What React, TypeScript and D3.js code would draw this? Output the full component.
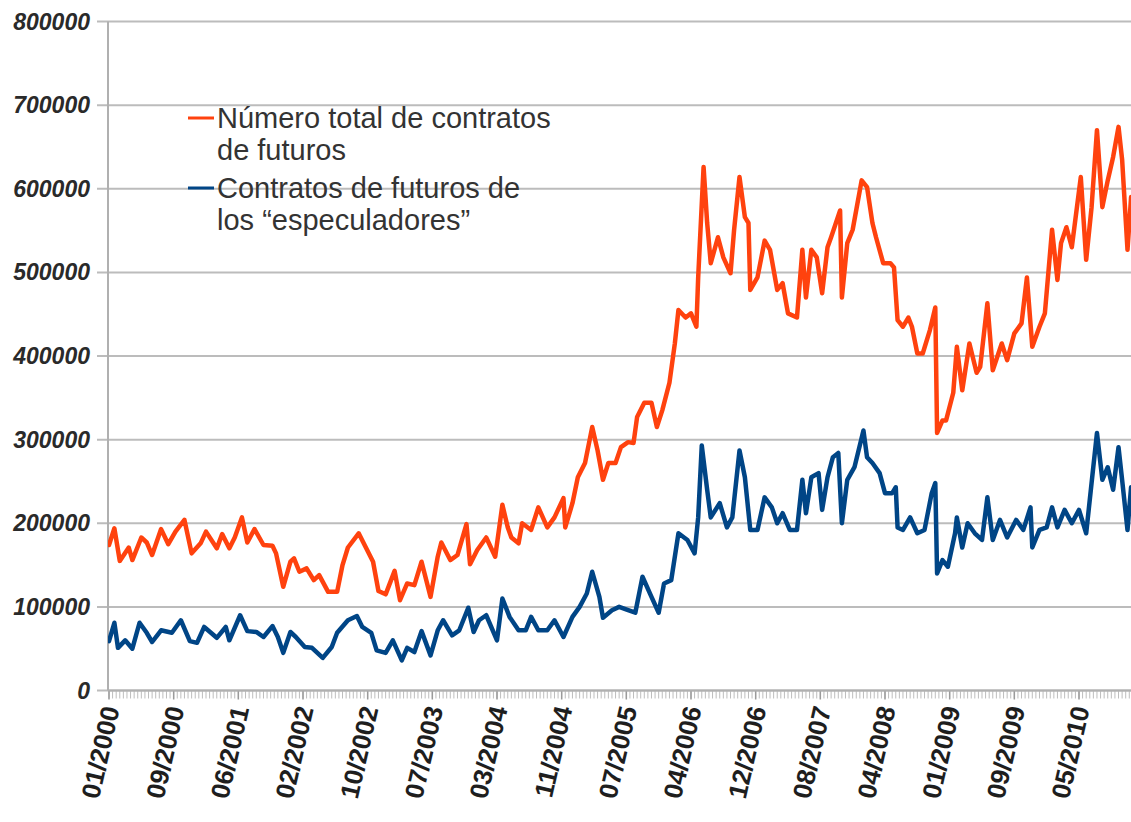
import React from 'react';
import * as d3 from 'd3';

// Weekly categories start 01/2000; a label every 36 weeks
const xTickLabels = ['01/2000','09/2000','06/2001','02/2002','10/2002','07/2003','03/2004','11/2004','07/2005','04/2006','12/2006','08/2007','04/2008','01/2009','09/2009','05/2010'];
const weeksPerLabel = 36;
const yTicks = [0, 100000, 200000, 300000, 400000, 500000, 600000, 700000, 800000];

const seriesNames = ['Número total de contratos\nde futuros', 'Contratos de futuros de\nlos “especuladores”'];

// [week index, value in thousands of contracts]
const totalContracts: [number, number][] = [
  [0,174],[3,194],[6,155],[11,171],[13,156],[18,183],[21,177],[24,162],[29,193],[33,175],[37,190],[42,204],[46,164],[51,176],[54,190],[60,170],[63,187],[67,170],[70,183],[74,207],[77,177],[81,193],[86,174],[91,173],[93,164],[97,124],[101,154],[103,158],[106,142],[110,146],[114,132],[117,138],[122,118],[127,118],[130,150],[133,171],[139,188],[143,171],[147,154],[150,119],[154,115],[159,143],[162,108],[166,128],[170,126],[174,154],[179,112],[183,160],[185,177],[190,156],[194,162],[199,199],[201,151],[205,168],[210,183],[215,160],[219,222],[222,195],[224,183],[228,176],[230,200],[235,192],[239,219],[244,195],[248,207],[253,230],[254,195],[258,224],[261,255],[265,272],[269,315],[272,287],[275,252],[278,272],[282,272],[285,291],[289,297],[292,296],[294,327],[298,344],[302,344],[305,315],[308,335],[312,368],[315,415],[317,455],[321,446],[324,451],[327,435],[328,494],[331,626],[333,559],[335,511],[339,542],[342,518],[346,499],[348,551],[351,614],[354,566],[356,559],[357,479],[361,494],[365,538],[368,527],[372,479],[375,487],[378,451],[383,446],[386,527],[388,470],[391,527],[394,518],[397,475],[400,530],[402,542],[407,574],[408,470],[411,535],[414,551],[419,610],[422,602],[425,559],[427,542],[431,511],[435,511],[437,506],[439,443],[442,435],[445,446],[447,435],[450,403],[453,403],[457,431],[460,458],[461,308],[464,323],[466,323],[470,356],[472,411],[475,359],[479,415],[483,380],[485,387],[489,463],[492,383],[497,415],[500,395],[504,427],[508,439],[511,494],[514,411],[518,435],[521,451],[525,551],[528,491],[530,535],[533,554],[536,530],[541,614],[544,515],[547,578],[550,670],[553,578],[556,610],[559,638],[562,674],[564,635],[567,527],[569,590]
];

const speculatorContracts: [number, number][] = [
  [0,59],[3,81],[5,51],[9,60],[13,50],[17,81],[21,69],[24,58],[29,72],[35,69],[40,84],[45,59],[49,57],[53,76],[60,63],[65,76],[67,60],[73,90],[77,71],[82,70],[86,64],[91,77],[94,64],[97,45],[101,70],[104,64],[109,52],[113,51],[119,39],[124,52],[127,69],[133,84],[138,89],[141,76],[146,69],[149,48],[154,45],[158,60],[163,36],[166,51],[170,46],[174,71],[179,42],[183,72],[186,84],[191,66],[195,72],[200,99],[203,70],[206,84],[210,90],[216,60],[219,110],[223,88],[228,72],[232,72],[235,88],[239,72],[244,72],[248,84],[253,64],[258,88],[262,100],[266,116],[269,142],[273,112],[275,87],[280,96],[284,100],[289,96],[293,93],[297,136],[302,112],[306,93],[309,128],[313,132],[317,188],[322,180],[326,164],[328,207],[330,293],[333,240],[335,207],[340,224],[344,195],[347,207],[351,287],[354,255],[357,192],[361,192],[365,231],[369,219],[372,200],[375,212],[379,192],[383,192],[386,252],[388,212],[391,255],[395,260],[397,216],[400,255],[403,279],[406,284],[408,200],[411,252],[415,267],[420,311],[422,279],[425,272],[429,260],[432,236],[436,236],[438,243],[439,195],[442,192],[446,207],[450,188],[454,192],[458,236],[460,248],[461,140],[464,156],[467,148],[471,188],[472,207],[475,171],[478,200],[482,188],[486,180],[489,231],[492,180],[496,204],[500,183],[505,204],[509,192],[513,219],[514,171],[518,192],[522,195],[525,219],[528,195],[532,216],[536,200],[540,216],[544,188],[547,248],[550,308],[553,252],[556,267],[559,240],[562,291],[564,252],[567,192],[569,243]
];

const seriesColors = ['#ff420e', '#004586'];

const W = 1131;
const H = 822;

export default function App() {
  const lastLabelWeek = weeksPerLabel * (xTickLabels.length - 1);
  const x = d3.scaleLinear().domain([0, lastLabelWeek]).range([109, 1079]);
  const y = d3.scaleLinear().domain([0, 800000]).range([690.5, 21.5]);
  const plotLeft = 108;
  const plotRight = W + 10;
  const maxWeek = Math.ceil(x.invert(plotRight));

  const line = d3.line<[number, number]>()
    .x(d => x(d[0]))
    .y(d => y(d[1] * 1000));

  const minorTicks = d3.range(0, maxWeek, 2);
  const majorTicks = xTickLabels.map((_, i) => i * weeksPerLabel);

  const fmt = d3.format('d');

  return (
    <div style={{ position: 'absolute', left: 0, top: 0 }}>
      <svg width={W} height={H} style={{ display: 'block', background: '#fff' }}>
        <defs>
          <clipPath id="plotClip">
            <rect x={plotLeft} y={0} width={plotRight - plotLeft} height={H} />
          </clipPath>
        </defs>
        {/* gridlines */}
        {yTicks.map(t => (
          <g key={t}>
            <line x1={97} x2={plotRight} y1={y(t)} y2={y(t)} stroke="#bcbcbc" strokeWidth={2} />
            <text x={90} y={y(t)} dy="0.35em" textAnchor="end" fontFamily="Liberation Sans, Arial, sans-serif" fontWeight="bold" fontStyle="italic" fontSize={23} fill="#2a2a2a">
              {fmt(t)}
            </text>
          </g>
        ))}
        {/* y axis line */}
        <line x1={plotLeft} x2={plotLeft} y1={y(800000)} y2={y(0)} stroke="#b0b0b0" strokeWidth={2} />
        {/* x axis ticks */}
        <g clipPath="url(#plotClip)">
          {minorTicks.map(w => (
            <line key={w} x1={x(w)} x2={x(w)} y1={y(0)} y2={y(0) + 8} stroke="#bdbdbd" strokeWidth={1} />
          ))}
          {majorTicks.map(w => (
            <line key={'M' + w} x1={x(w)} x2={x(w)} y1={y(0)} y2={y(0) + 9} stroke="#9a9a9a" strokeWidth={1.5} />
          ))}
          <line x1={plotLeft} x2={plotRight} y1={y(0)} y2={y(0)} stroke="#b0b0b0" strokeWidth={2} />
        </g>
        {xTickLabels.map((lab, i) => (
          <text key={lab} transform={`translate(${x(i * weeksPerLabel) + 2},${y(0) + 16}) rotate(-77)`} textAnchor="end" dy="0.35em"
            fontFamily="Liberation Sans, Arial, sans-serif" fontWeight="bold" fontSize={26} fill="#1e1e1e">
            {lab}
          </text>
        ))}
        {/* series */}
        <g clipPath="url(#plotClip)" fill="none" strokeWidth={4.5} strokeLinejoin="round" strokeLinecap="round">
          <path d={line(speculatorContracts) || ''} stroke={seriesColors[1]} />
          <path d={line(totalContracts) || ''} stroke={seriesColors[0]} />
        </g>
        {/* legend */}
        {seriesNames.map((name, i) => {
          const baseY = i === 0 ? 128 : 198;
          const lines = name.split('\n');
          return (
            <g key={i}>
              <line x1={188} x2={214} y1={baseY - 10} y2={baseY - 10} stroke={seriesColors[i]} strokeWidth={3} />
              {lines.map((l, j) => (
                <text key={j} x={217} y={baseY + j * 32} fontFamily="Liberation Sans, Arial, sans-serif" fontSize={29} fill="#333">
                  {l}
                </text>
              ))}
            </g>
          );
        })}
      </svg>
    </div>
  );
}
